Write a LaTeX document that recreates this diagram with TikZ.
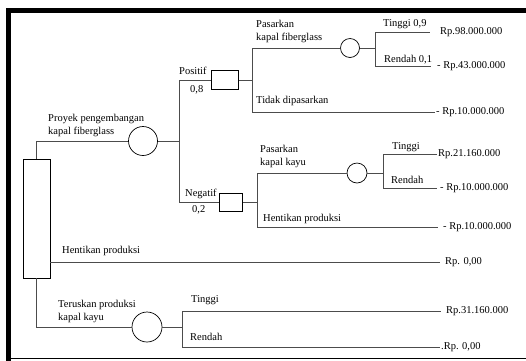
\documentclass[tikz,border=0pt]{standalone}
\usepackage{fontspec}
\setmainfont{Liberation Serif}
\usetikzlibrary{positioning}

\begin{document}
\begin{tikzpicture}[x=1pt,y=1pt]
\tikzset{every node/.style={inner sep=1pt, font=\fontsize{10.5}{13}\selectfont}}
\tikzset{kotak/.style={draw, line width=0.7pt, rectangle, minimum width=27pt, minimum height=19pt, inner sep=0pt}}
\tikzset{bulat/.style={draw, line width=0.7pt, circle, minimum size=19pt, inner sep=0pt}}
\tikzset{garis/.style={draw=black!70, line width=0.8pt}}
\tikzset{teks/.style={anchor=base west, align=left}}
\tikzset{nilai/.style={anchor=west}}
\useasboundingbox (0,0) rectangle (526,-360);
% bingkai
\draw [line width=4.5pt] (8.5,-362) -- (8.5,-10.5) -- (528,-10.5);
\draw [line width=0.8pt] (8.5,-358.5) -- (528,-358.5);
% simpul keputusan dan peluang
\node [kotak, minimum height=119pt] (k0) at (36.5,-218.5) {};
\node [bulat, minimum size=29pt] (p1) at (143,-141) {};
\node [kotak] (k1) at (225,-80) {};
\node [kotak, minimum width=23pt, minimum height=18pt] (k2) at (231,-202) {};
\node [bulat] (p2) at (350,-48) {};
\node [bulat, minimum size=20pt] (p3) at (357,-173) {};
\node [bulat, minimum size=30pt] (p4) at (147,-327) {};
% titik cabang
\coordinate (a1) at (179,-80);
\coordinate (a2) at (179,-202);
\coordinate (b1) at (252,-48);
\coordinate (b2) at (252,-112);
\coordinate (c1) at (375,-32);
\coordinate (c2) at (375,-66);
\coordinate (d1) at (257,-173);
\coordinate (d2) at (257,-227);
\coordinate (f1) at (383,-154);
\coordinate (f2) at (383,-188);
\coordinate (g1) at (182,-311);
\coordinate (g2) at (182,-347);
% ujung cabang
\coordinate (e1) at (430,-32);
\coordinate (e2) at (431,-66);
\coordinate (e3) at (435,-112);
\coordinate (e4) at (437,-154);
\coordinate (e5) at (437,-188);
\coordinate (e6) at (438,-227);
\coordinate (e7) at (440,-262);
\coordinate (e8) at (441,-311);
\coordinate (e9) at (440,-347);
% garis penghubung
\draw [garis] (k0.north) |- (p1.west);
\draw [garis] (p1.east) -- (a1 |- p1.east);
\draw [garis] (a1) -- (a2);
\draw [garis] (a1) -- (k1.west);
\draw [garis] (a2) -- (k2.west);
\draw [garis] (k1.east) -- (b1 |- k1.east);
\draw [garis] (b1) -- (b2);
\draw [garis] (b1) -- (p2.west);
\draw [garis] (b2) -- (e3);
\draw [garis] (p2.east) -- (c1 |- p2.east);
\draw [garis] (c1) -- (c2);
\draw [garis] (c1) -- (e1);
\draw [garis] (c2) -- (e2);
\draw [garis] (k2.east) -- (d1 |- k2.east);
\draw [garis] (d1) -- (d2);
\draw [garis] (d1) -- (p3.west);
\draw [garis] (d2) -- (e6);
\draw [garis] (p3.east) -- (f1 |- p3.east);
\draw [garis] (f1) -- (f2);
\draw [garis] (f1) -- (e4);
\draw [garis] (f2) -- (e5);
\draw [garis] (k0.east |- e7) -- (e7);
\draw [garis] (k0.south) |- (p4.west);
\draw [garis] (p4.east) -- (g1 |- p4.east);
\draw [garis] (g1) -- (g2);
\draw [garis] (g1) -- (e8);
\draw [garis] (g2) -- (e9);
% label cabang
\node [teks] (t1) at (47,-134) {Proyek pengembangan\\ kapal fiberglass};
\node [teks] (t2) at (178,-74) {Positif};
\node [teks] (t3) at (189,-92) {0,8};
\node [teks] (t4) at (255,-40) {Pasarkan\\ kapal fiberglass};
\node [teks] (t5) at (382,-26) {Tinggi 0,9};
\node [teks] (t6) at (383,-62) {Rendah 0,1};
\node [teks] (t7) at (255,-103) {Tidak dipasarkan};
\node [teks] (t8) at (184,-196) {Negatif};
\node [teks] (t9) at (191,-212) {0,2};
\node [teks] (t10) at (259,-165) {Pasarkan\\ kapal kayu};
\node [teks] (t11) at (391,-149) {Tinggi};
\node [teks] (t12) at (390,-183) {Rendah};
\node [teks] (t13) at (262,-221) {Hentikan produksi};
\node [teks] (t14) at (61,-253) {Hentikan produksi};
\node [teks] (t15) at (57,-320) {Teruskan produksi\\ kapal kayu};
\node [teks] (t16) at (190,-302) {Tinggi};
\node [teks] (t17) at (189,-340) {Rendah};
% nilai hasil
\node [nilai, right=9pt of e1] (n1) {Rp.98.000.000};
\node [nilai, right=5pt of e2] (n2) {- Rp.43.000.000};
\node [nilai, right=0pt of e3] (n3) {- Rp.10.000.000};
\node [nilai, right=0pt of e4] (n4) {Rp.21.160.000};
\node [nilai, right=2pt of e5] (n5) {- Rp.10.000.000};
\node [nilai, right=4pt of e6] (n6) {- Rp.10.000.000};
\node [nilai, right=4pt of e7] (n7) {Rp. 0,00};
\node [nilai, right=4pt of e8] (n8) {Rp.31.160.000};
\node [nilai, right=0pt of e9] (n9) {.Rp. 0,00};
\end{tikzpicture}
\end{document}
